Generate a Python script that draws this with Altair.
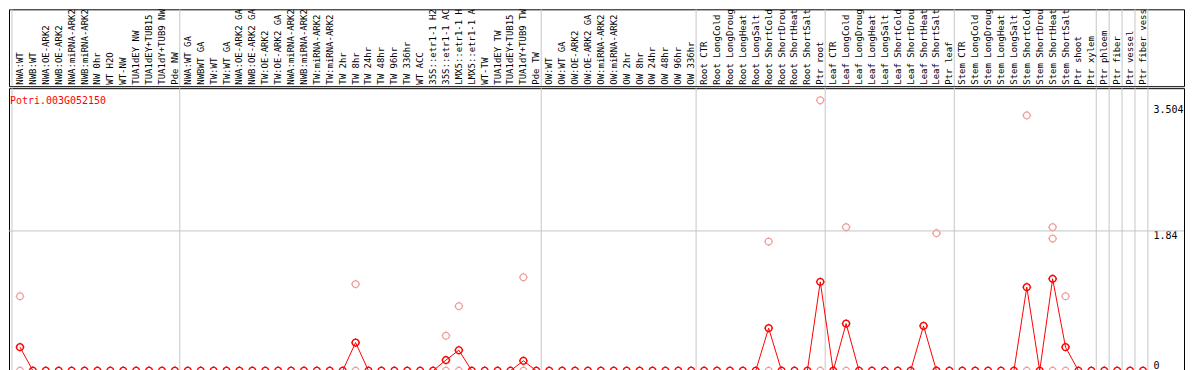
import math
import altair as alt
import pandas as pd

GENE_ID = "Potri.003G052150"

samples = [
    "NWA:WT", "NWB:WT", "NWA:OE-ARK2", "NWB:OE-ARK2", "NWA:miRNA-ARK2", "NWB:miRNA-ARK2",
    "NW 0hr", "WT H2O", "WT-NW", "TUA1dEY NW", "TUA1dEY+TUB15 NW", "TUA1dY+TUB9 NW", "Pde NW",
    "NWA:WT GA", "NWBWT GA", "TW:WT", "TW:WT GA", "NWA:OE-ARK2 GA", "NWB:OE-ARK2 GA",
    "TW:OE-ARK2", "TW:OE-ARK2 GA", "NWA:miRNA-ARK2 GA", "NWB:miRNA-ARK2 GA", "TW:miRNA-ARK2",
    "TW:miRNA-ARK2 GA", "TW 2hr", "TW 8hr", "TW 24hr", "TW 48hr", "TW 96hr", "TW 336hr",
    "WT ACC", "35S::etr1-1 H2O", "35S::etr1-1 ACC", "LMX5::etr1-1 H2O", "LMX5::etr1-1 ACC",
    "WT-TW", "TUA1dEY TW", "TUA1dEY+TUB15 TW", "TUA1dY+TUB9 TW", "Pde TW",
    "OW:WT", "OW:WT GA", "OW:OE-ARK2", "OW:OE-ARK2 GA", "OW:miRNA-ARK2", "OW:miRNA-ARK2 GA",
    "OW 2hr", "OW 8hr", "OW 24hr", "OW 48hr", "OW 96hr", "OW 336hr",
    "Root CTR", "Root LongCold", "Root LongDrought", "Root LongHeat", "Root LongSalt",
    "Root ShortCold", "Root ShortDrought", "Root ShortHeat", "Root ShortSalt", "Ptr root",
    "Leaf CTR", "Leaf LongCold", "Leaf LongDrought", "Leaf LongHeat", "Leaf LongSalt",
    "Leaf ShortCold", "Leaf ShortDrought", "Leaf ShortHeat", "Leaf ShortSalt", "Ptr leaf",
    "Stem CTR", "Stem LongCold", "Stem LongDrought", "Stem LongHeat", "Stem LongSalt",
    "Stem ShortCold", "Stem ShortDrought", "Stem ShortHeat", "Stem ShortSalt",
    "Ptr shoot", "Ptr xylem", "Ptr phloem", "Ptr fiber", "Ptr vessel", "Ptr fiber vessel",
]

mean_values = [
    0.31, 0, 0, 0, 0, 0, 0, 0, 0, 0, 0, 0, 0,
    0, 0, 0, 0, 0, 0, 0, 0, 0, 0, 0, 0, 0, 0.37, 0, 0, 0, 0,
    0, 0, 0.14, 0.27, 0, 0, 0, 0, 0.13, 0,
    0, 0, 0, 0, 0, 0, 0, 0, 0, 0, 0, 0,
    0, 0, 0, 0, 0, 0.56, 0, 0, 0, 1.17,
    0, 0.62, 0, 0, 0, 0, 0, 0.59, 0, 0,
    0, 0, 0, 0, 0, 1.10, 0, 1.21, 0.31,
    0, 0, 0, 0, 0, 0,
]

rep_index = [0, 0, 26, 26, 33, 33, 34, 34, 39, 39, 58, 58, 62, 62, 64, 64,
             71, 71, 78, 78, 80, 80, 80, 81, 81]
rep_values = [0.98, 0, 1.14, 0, 0.46, 0, 0.85, 0, 1.23, 0, 1.70, 0, 3.56, 0, 1.89, 0,
              1.81, 0, 3.36, 0, 1.89, 1.74, 0, 0.98, 0]

group_bounds = [-0.5, 12.5, 40.5, 52.5, 62.5, 72.5, 83.5, 84.5, 85.5, 86.5, 87.5]
grid_values = [1.84]
axis_values = [0, 1.84, 3.504]

W = 1177
TOP_H = 77
PLOT_H = 283
STEP = 12.93
MONO = "DejaVu Sans Mono"
GRID = "#c6c6c6"

# open circle marker with four small ticks (polygonal circle + tick strokes)
_n = 24
_circle = "M" + " L".join(
    f"{math.cos(2 * math.pi * k / _n):.3f},{math.sin(2 * math.pi * k / _n):.3f}" for k in range(_n)
) + " Z"
MARKER = _circle + " M0,-1 L0,-1.3 M0,1 L0,1.3 M-1,0 L-1.3,0 M1,0 L1.3,0"

main_df = pd.DataFrame({"idx": list(range(len(samples))), "sample": samples, "value": mean_values})
rep_df = pd.DataFrame({"idx": rep_index, "value": rep_values})
sep_df = pd.DataFrame({"b": group_bounds})
grid_df = pd.DataFrame({"v": grid_values})
gene_df = pd.DataFrame({"gene": [GENE_ID]})

xs = alt.Scale(domain=[-11 / STEP, (W - 11) / STEP], nice=False, zero=False)
ys = alt.Scale(domain=[0, PLOT_H / 76.09], nice=False, zero=True)
y_axis = alt.Axis(orient="right", values=axis_values, grid=False, ticks=False, domain=False,
                  title=None, labelAlign="left",
                  labelBaseline={"condition": {"test": "datum.value == 0", "value": "bottom"},
                                 "value": "top"},
                  labelPadding=-31, labelFont=MONO, labelFontSize=10, labelColor="black",
                  labelExpr="'' + datum.value")

sep_rule = alt.Chart(sep_df).transform_calculate(bx="datum.b - 0.12").mark_rule(
    color=GRID, strokeWidth=1).encode(x=alt.X("bx:Q", scale=xs, axis=None))

grid_rule = alt.Chart(grid_df).mark_rule(color=GRID, strokeWidth=1).encode(
    y=alt.Y("v:Q", scale=ys, axis=y_axis))

reps = alt.Chart(rep_df).mark_point(shape=MARKER, filled=False, size=46, color="#f09c9c",
                                    strokeWidth=1.2, opacity=1).encode(
    x=alt.X("idx:Q", scale=xs, axis=None), y=alt.Y("value:Q", scale=ys, axis=y_axis))

line = alt.Chart(main_df).mark_line(color="#ff0000", strokeWidth=1).encode(
    x=alt.X("idx:Q", scale=xs, axis=None), y=alt.Y("value:Q", scale=ys, axis=y_axis))

pts = alt.Chart(main_df).mark_point(shape=MARKER, filled=False, size=46, color="#ff0000",
                                    strokeWidth=1.4, opacity=1).encode(
    x=alt.X("idx:Q", scale=xs, axis=None), y=alt.Y("value:Q", scale=ys, axis=y_axis))

gene = alt.Chart(gene_df).mark_text(align="left", baseline="alphabetic", font=MONO, fontSize=10,
                                    color="#ff0000").encode(
    x=alt.value(1), y=alt.value(15.5), text="gene:N")

plot = alt.layer(sep_rule, grid_rule, reps, line, pts, gene).properties(width=W, height=PLOT_H)

labels = alt.Chart(main_df).transform_calculate(
    short="substring(datum.sample, 0, 14)").mark_text(
    angle=270, align="left", baseline="middle", font=MONO, fontSize=9, color="black",
    clip=True).encode(x=alt.X("idx:Q", scale=xs, axis=None), y=alt.value(TOP_H - 1.5),
                      text="short:N")

top = alt.layer(sep_rule, labels).properties(width=W, height=TOP_H)

chart = alt.vconcat(top, plot, spacing=0).properties(
    padding={"left": 0, "top": 0, "right": 1, "bottom": 2}
).configure_view(stroke="black", strokeWidth=1).configure_concat(spacing=0)

chart.save("out.html", embed_options={"renderer": "svg", "actions": False})
